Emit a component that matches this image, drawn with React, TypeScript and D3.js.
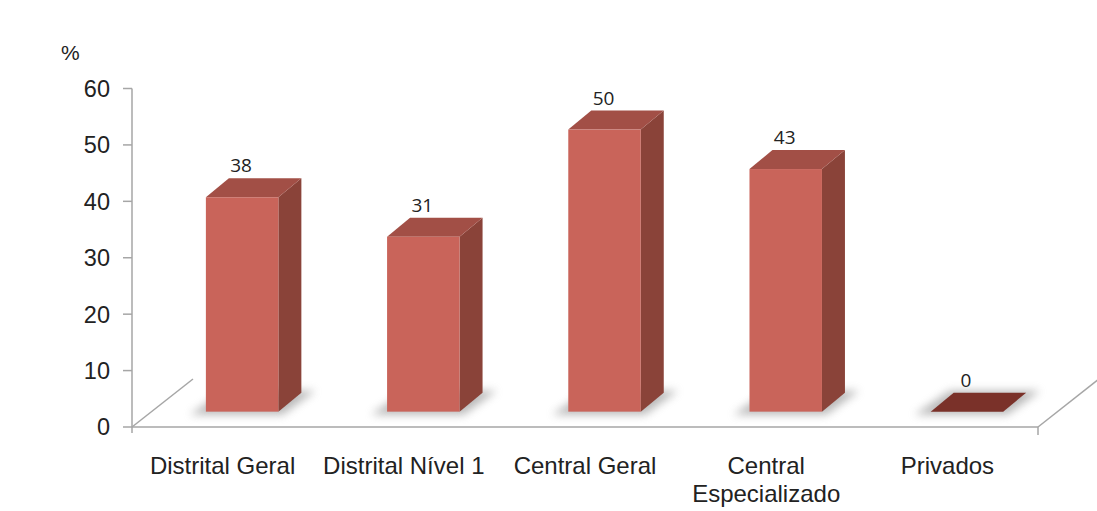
import React from "react";
import * as d3 from "d3";

// Share of hospitals (%) by hospital type
const categories: string[][] = [
  ["Distrital Geral"],
  ["Distrital Nível 1"],
  ["Central Geral"],
  ["Central", "Especializado"],
  ["Privados"],
];
const values: number[] = [38, 31, 50, 43, 0];
const yTicks: number[] = [0, 10, 20, 30, 40, 50, 60];

const W = 1097;
const H = 511;

export default function App() {
  const x0 = 132;
  const x1 = 1038;
  const yBase = 427;
  const y = d3.scaleLinear().domain([0, 60]).range([yBase, 88.5]);
  const x = d3
    .scaleBand<number>()
    .domain(d3.range(values.length))
    .range([x0, x1])
    .paddingInner(0)
    .paddingOuter(0);

  // floor depth vector, bar front plane offset and bar depth
  const floor = { dx: 61, dy: -48 };
  const front = { dx: floor.dx * 0.32, dy: floor.dy * 0.32 };
  const depth = { dx: 23, dy: -19 };
  const barW = x.bandwidth() * 0.4;

  const frontCol = "#C9645A";
  const topCol = "#A24F46";
  const sideCol = "#8A4339";
  const flatCol = "#7A3129";
  const axisCol = "#A6A6A6";
  const sans = "Liberation Sans, Arial, sans-serif";

  const pts = (p: [number, number][]) => p.map((q) => q.join(",")).join(" ");

  return (
    <svg
      width={W}
      height={H}
      style={{ position: "absolute", left: 0, top: 0, background: "#fff" }}
    >
      <defs>
        <filter id="shadowBlur" x="-50%" y="-200%" width="200%" height="500%">
          <feGaussianBlur stdDeviation="4" />
        </filter>
      </defs>

      {/* floor */}
      <g stroke={axisCol} strokeWidth={1.5} fill="none">
        <line x1={x0} y1={yBase} x2={x1} y2={yBase} />
        <line x1={x0} y1={yBase} x2={x0 + floor.dx} y2={yBase + floor.dy} />
        <line x1={x1} y1={yBase} x2={x1 + floor.dx} y2={yBase + floor.dy} />
        <line x1={x1} y1={yBase} x2={x1} y2={yBase + 8} />
      </g>

      {/* y axis */}
      <g>
        <line x1={x0} y1={y(60)} x2={x0} y2={yBase + 6} stroke={axisCol} strokeWidth={1.5} />
        {yTicks.map((t) => (
          <g key={t}>
            <line x1={x0 - 9} x2={x0} y1={y(t)} y2={y(t)} stroke={axisCol} strokeWidth={1.5} />
            <text
              x={110}
              y={y(t)}
              dy="0.36em"
              textAnchor="end"
              fontFamily={sans}
              fontSize={23.5}
              fill="#222"
            >
              {t}
            </text>
          </g>
        ))}
        <text x={61} y={60} fontFamily={sans} fontSize={21} fill="#222">
          %
        </text>
      </g>

      {/* shadows */}
      {values.map((v, i) => {
        const cx = (x(i) as number) + x.bandwidth() / 2 + front.dx;
        const by = yBase + front.dy;
        const l = cx - barW / 2;
        const r = cx + barW / 2;
        const p: [number, number][] = [
          [l - 16, by + 3],
          [r + 4, by + 3],
          [r + depth.dx + 14, by + depth.dy - 2],
          [l + depth.dx - 4, by + depth.dy - 2],
        ];
        return (
          <polygon
            key={"s" + i}
            points={pts(p)}
            fill="#8c8c8c"
            opacity={0.6}
            filter="url(#shadowBlur)"
          />
        );
      })}

      {/* bars */}
      {values.map((v, i) => {
        const cx = (x(i) as number) + x.bandwidth() / 2 + front.dx;
        const by = yBase + front.dy;
        const ty = y(v) + front.dy;
        const l = cx - barW / 2;
        const r = cx + barW / 2;
        if (v === 0) {
          const flat: [number, number][] = [
            [l, by],
            [r, by],
            [r + depth.dx, by + depth.dy],
            [l + depth.dx, by + depth.dy],
          ];
          return <polygon key={"b" + i} points={pts(flat)} fill={flatCol} />;
        }
        const top: [number, number][] = [
          [l, ty],
          [r, ty],
          [r + depth.dx, ty + depth.dy],
          [l + depth.dx, ty + depth.dy],
        ];
        const side: [number, number][] = [
          [r, ty],
          [r + depth.dx, ty + depth.dy],
          [r + depth.dx, by + depth.dy],
          [r, by],
        ];
        return (
          <g key={"b" + i}>
            <polygon points={pts(side)} fill={sideCol} />
            <polygon points={pts(top)} fill={topCol} />
            <rect x={l} y={ty} width={barW} height={by - ty} fill={frontCol} />
          </g>
        );
      })}

      {/* value labels */}
      {values.map((v, i) => {
        const cx = (x(i) as number) + x.bandwidth() / 2 + front.dx;
        const ty = y(v) + front.dy;
        return (
          <text
            key={"v" + i}
            x={cx - 1}
            y={ty - 25}
            textAnchor="middle"
            fontFamily="Open Sans, Noto Sans, sans-serif"
            fontSize={19}
            fill="#222"
          >
            {v}
          </text>
        );
      })}

      {/* category labels */}
      {categories.map((lines, i) => {
        const cx = (x(i) as number) + x.bandwidth() / 2;
        return (
          <text
            key={"c" + i}
            textAnchor="middle"
            fontFamily={sans}
            fontSize={24}
            fill="#222"
          >
            {lines.map((ln, k) => (
              <tspan key={k} x={cx} y={474 + k * 27.5}>
                {ln}
              </tspan>
            ))}
          </text>
        );
      })}
    </svg>
  );
}
